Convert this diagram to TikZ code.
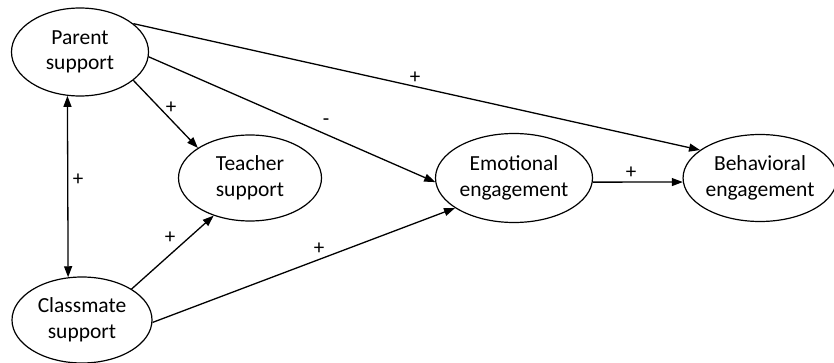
\documentclass[tikz,border=0pt]{standalone}
\usepackage{fontspec}
\setmainfont{Carlito}
\usetikzlibrary{shapes.geometric,arrows.meta}
\begin{document}
\begin{tikzpicture}[x=1pt,y=-1pt,
  construct/.style={draw, ellipse, line width=1.2pt, inner sep=0pt, align=center,
    font=\fontsize{21.5}{25.5}\selectfont},
  conn/.style={line width=1.3pt, -{Triangle[length=11pt,width=8pt]}},
  bconn/.style={line width=1.3pt, {Triangle[length=11pt,width=8pt]}-{Triangle[length=11pt,width=8pt]}},
  sign/.style={inner sep=0pt, font=\fontsize{21}{24}\selectfont}]
\useasboundingbox (0,0) rectangle (834,363);
\node[construct, minimum width=137pt, minimum height=88pt] (parent) at (80,52) {Parent\\support};
\node[construct, minimum width=140pt, minimum height=86pt] (class) at (82,320) {Classmate\\support};
\node[construct, minimum width=143pt, minimum height=86pt] (teacher) at (250,178) {Teacher\\support};
\node[construct, minimum width=157pt, minimum height=89pt] (emot) at (514,178) {Emotional\\engagement};
\node[construct, minimum width=146pt, minimum height=87pt] (behav) at (760,178) {Behavioral\\engagement};
\draw[conn] (parent.28) -- (behav.155);
\draw[conn] (parent.-4) -- (emot.183);
\draw[conn] (parent.-28) -- (teacher.150);
\draw[bconn] (parent.254.5) -- (class.108.4);
\draw[conn] (class.32.6) -- (teacher.226.5);
\draw[conn] (class.-2.4) -- (emot.207);
\draw[conn] (emot.-3.7) -- (behav.183.7);
\node[sign] (s1) at (415,78) {+};
\node[sign] (s2) at (326,122) {-};
\node[sign] (s3) at (171,108) {+};
\node[sign] (s4) at (78,180) {+};
\node[sign] (s5) at (170,238) {+};
\node[sign] (s6) at (319,249) {+};
\node[sign] (s7) at (631,173) {+};
\end{tikzpicture}
\end{document}
